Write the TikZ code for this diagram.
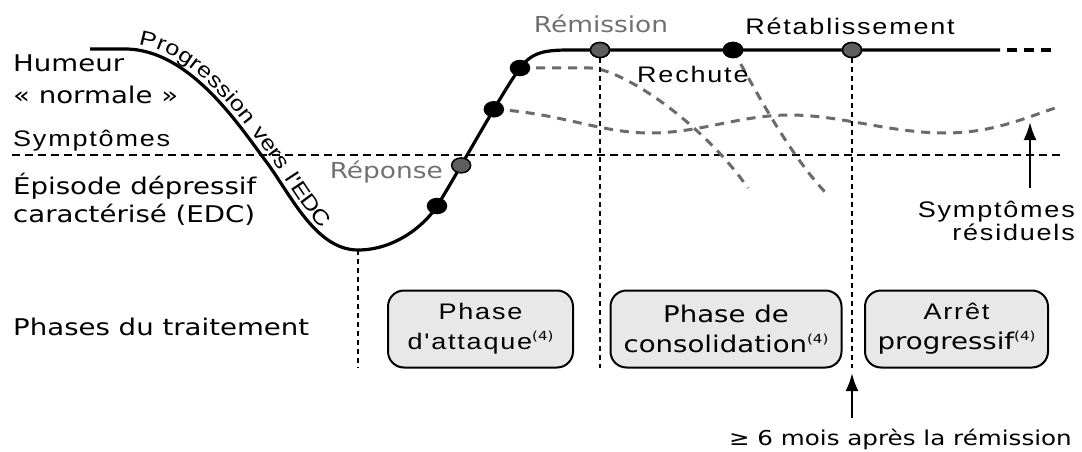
\documentclass[tikz,border=0pt]{standalone}
\usepackage{fontspec}
\setmainfont{DejaVu Sans}[FakeStretch=1.2]
\newfontfamily\arialf{Liberation Sans}[FakeStretch=1.2,LetterSpace=8]
\usetikzlibrary{shapes.geometric,arrows.meta,decorations.text}
\definecolor{dgray}{HTML}{6B6B6B}
\definecolor{dotgray}{HTML}{5E5E5E}
\definecolor{txtgray}{HTML}{707070}
\definecolor{boxfill}{HTML}{E8E8E8}
\newcommand\supfour{\raisebox{9pt}{\fontsize{12.5}{12.5}\selectfont(4)}}
\newcommand\arialtxt{\arialf\fontsize{22.5}{30}\selectfont}
\newcommand\curvetxt{\arialf\fontsize{21}{26}\selectfont}
\begin{document}
\begin{tikzpicture}[x=1pt,y=-1pt,
  lab/.style={font=\fontsize{23}{28}\selectfont, inner sep=0pt},
  alab/.style={font=\arialtxt, inner sep=0pt},
  glab/.style={font=\fontsize{22}{28}\selectfont, text=txtgray, inner sep=0pt},
  mainline/.style={line width=3.2pt, line join=round},
  enddash/.style={line width=3.2pt, dash pattern=on 10pt off 7pt},
  gdash/.style={line width=3pt, draw=dgray, dash pattern=on 9pt off 7pt},
  hdash/.style={line width=1.6pt, dash pattern=on 8pt off 5pt},
  vdot/.style={line width=2.4pt, dash pattern=on 5pt off 4pt},
  dotb/.style={ellipse, minimum width=19pt, minimum height=15pt, inner sep=0pt, draw, line width=1.5pt, fill=black},
  dotg/.style={dotb, fill=dotgray},
  phasebox/.style={draw, line width=2pt, rounded corners=16pt, fill=boxfill, minimum height=77pt, inner sep=0pt, align=center, font=\fontsize{23}{30}\selectfont},
  arr/.style={line width=2.5pt, -{Latex[length=18pt,width=13pt]}}
]
\useasboundingbox (0,0) rectangle (1082,452);

% key coordinates
\coordinate (start) at (90,49);
\coordinate (bot) at (358,250);
\coordinate (p1) at (437,206);
\coordinate (p4) at (520,68);
\coordinate (end) at (1000,50);
\coordinate (dstart) at (1007,50);
\coordinate (dashend) at (1055,50);
\coordinate (hl) at (12,155);
\coordinate (hr) at (1062,155);
\coordinate (base) at (0,368);
\coordinate (arrtail) at (852,418);
\coordinate (arrtip) at (852,373);
\coordinate (rtail) at (1030,188);
\coordinate (rtip) at (1030,122);

% reference dashed line
\draw[hdash] (hl) -- (hr);

% main curve (with positions of the dots on it)
\draw[mainline] (start) -- (125,49)
  .. controls (190,49) and (240,127) .. (265,160)
  .. controls (290,193) and (315,250) .. (bot)
  .. controls (395,250) and (425,225) .. (p1)
  .. controls (452,183) and (502,92) .. (p4)
     coordinate[pos=0.333] (p2) coordinate[pos=0.667] (p3)
  .. controls (532,52) and (545,50) .. (570,50) -- (end);
\draw[enddash] (dstart) -- (dashend);

% text along the descending part
\path[decorate, decoration={text along path, text={|\curvetxt|Progression vers l'EDC}, raise=5.5pt, text align={left indent=12pt}}]
  (125,49) .. controls (190,49) and (240,127) .. (265,160)
  .. controls (290,193) and (315,250) .. (bot);

% dots on the plateau
\node[dotg] (rem) at (600,50) {};
\node[dotb] (rech) at (733,50) {};
\node[dotg] (retab) at (852,50) {};

% grey dashed alternative courses
\draw[gdash] (p4) -- (590,68) .. controls (620,68) and (700,120) .. (748,188);
\draw[gdash] (rech.center) .. controls (755,90) and (790,155) .. (825,192);
\draw[gdash] (p3) .. controls (560,113) and (600,133) .. (650,133)
  .. controls (700,133) and (740,115) .. (790,115)
  .. controls (840,115) and (890,133) .. (945,133)
  .. controls (990,133) and (1020,120) .. (1055,108);

% vertical dotted lines
\draw[vdot] (bot) -- (bot |- base);
\draw[vdot] (rem.south) -- (rem |- base);
\draw[vdot] (retab.south) -- (retab |- base);

% dots on the rising part
\node[dotb] (d1) at (p1) {};
\node[dotg] (d2) at (p2) {};
\node[dotb] (d3) at (p3) {};
\node[dotb] (d4) at (p4) {};
\node[dotg] at (rem) {};
\node[dotb] at (rech) {};
\node[dotg] at (retab) {};

% labels on the curve
\node[glab, anchor=base] (lrem) at (601,33) {Rémission};
\node[alab, anchor=base] (lretab) at (850,35) {Rétablissement};
\node[alab, anchor=base west] (lrech) at (637,82) {Rechute};
\node[glab, anchor=base east] (lrep) at (443,178) {Réponse};

% left labels
\node[lab, anchor=base west] (h1) at (13,72) {Humeur};
\node[lab, anchor=base west] (h2) at (13,103) {« normale »};
\node[alab, anchor=base west] (s1) at (13,146) {Symptômes};
\node[lab, anchor=base west] (e1) at (13,194) {Épisode dépressif};
\node[lab, anchor=base west] (e2) at (13,222) {caractérisé (EDC)};
\node[lab, anchor=base west] (ph) at (13,335) {Phases du traitement};

% residual symptoms
\draw[arr] (rtail) -- (rtip);
\node[alab, anchor=base east] (sr1) at (1075,217) {Symptômes};
\node[alab, anchor=base east] (sr2) at (1075,240) {résiduels};

% phase boxes
\node[phasebox, minimum width=185pt] (b1) at (480.5,329) {{\arialtxt Phase}\\{\arialtxt d'attaque}\supfour};
\node[phasebox, minimum width=231pt] (b2) at (726,329) {Phase de\\consolidation\supfour};
\node[phasebox, minimum width=183pt] (b3) at (956.5,329) {{\arialtxt Arrêt}\\progressif\supfour};

% 6 months arrow
\draw[arr] (arrtail) -- (arrtip);
\node[font=\fontsize{20.5}{24}\selectfont, inner sep=0pt, anchor=base east] (six) at (1072,445) {≥ 6 mois après la rémission};
\end{tikzpicture}
\end{document}
